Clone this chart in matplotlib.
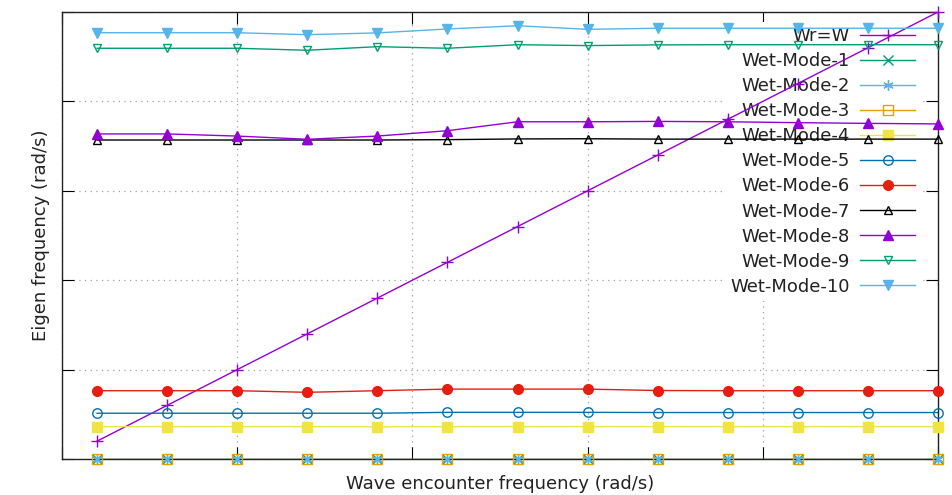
import matplotlib.pyplot as plt
from matplotlib.lines import Line2D
from matplotlib.ticker import NullFormatter

# wave encounter frequency (rad/s)
freq = [0.1, 0.3, 0.5, 0.7, 0.9, 1.1, 1.3, 1.5, 1.7, 1.9, 2.1, 2.3, 2.5]

# eigen frequencies (rad/s)
wr_w = [0.1, 0.3, 0.5, 0.7, 0.9, 1.1, 1.3, 1.5, 1.7, 1.9, 2.1, 2.3, 2.5]
mode1 = [0.0, 0.0, 0.0, 0.0, 0.0, 0.0, 0.0, 0.0, 0.0, 0.0, 0.0, 0.0, 0.0]
mode2 = [0.0, 0.0, 0.0, 0.0, 0.0, 0.0, 0.0, 0.0, 0.0, 0.0, 0.0, 0.0, 0.0]
mode3 = [0.0, 0.0, 0.0, 0.0, 0.0, 0.0, 0.0, 0.0, 0.0, 0.0, 0.0, 0.0, 0.0]
mode4 = [0.181, 0.181, 0.181, 0.181, 0.180, 0.181, 0.181, 0.181, 0.181, 0.181, 0.181, 0.181, 0.181]
mode5 = [0.256, 0.256, 0.256, 0.256, 0.256, 0.261, 0.261, 0.261, 0.260, 0.260, 0.260, 0.260, 0.260]
mode6 = [0.382, 0.382, 0.382, 0.373, 0.382, 0.391, 0.391, 0.391, 0.383, 0.382, 0.382, 0.382, 0.382]
mode7 = [1.784, 1.784, 1.784, 1.784, 1.784, 1.786, 1.790, 1.791, 1.789, 1.789, 1.789, 1.789, 1.789]
mode8 = [1.818, 1.818, 1.806, 1.788, 1.806, 1.836, 1.886, 1.886, 1.888, 1.886, 1.881, 1.877, 1.874]
mode9 = [2.297, 2.297, 2.297, 2.286, 2.306, 2.297, 2.317, 2.312, 2.316, 2.317, 2.317, 2.317, 2.317]
mode10 = [2.384, 2.384, 2.384, 2.373, 2.383, 2.405, 2.423, 2.403, 2.409, 2.409, 2.409, 2.409, 2.409]

series = [
    ('Wr=W', wr_w, '#9400D3', '+', 'none', 8),
    ('Wet-Mode-1', mode1, '#009E73', 'x', 'none', 6.5),
    ('Wet-Mode-2', mode2, '#56B4E9', (6, 2, 0), 'none', 7.5),
    ('Wet-Mode-3', mode3, '#E69F00', 's', 'none', 6.5),
    ('Wet-Mode-4', mode4, '#F0E442', 's', '#F0E442', 6.5),
    ('Wet-Mode-5', mode5, '#0072B2', 'o', 'none', 6.8),
    ('Wet-Mode-6', mode6, '#E51E10', 'o', '#E51E10', 7),
    ('Wet-Mode-7', mode7, 'black', '^', 'none', 6),
    ('Wet-Mode-8', mode8, '#9400D3', '^', '#9400D3', 7),
    ('Wet-Mode-9', mode9, '#009E73', 'v', 'none', 6),
    ('Wet-Mode-10', mode10, '#56B4E9', 'v', '#56B4E9', 7),
]

plt.rcParams['font.family'] = ['DejaVu Sans']

fig = plt.figure(figsize=(9.53, 4.95), dpi=100)
ax = fig.add_axes([0.0651, 0.0727, 0.9192, 0.9031])

handles = []
for i, (name, vals, color, marker, face, size) in enumerate(series):
    # lines sit under the border, markers on top of it (like gnuplot)
    ax.plot(freq, vals, color=color, linewidth=1.0, zorder=2 + i * 0.01)
    ax.plot(freq, vals, linestyle='none', marker=marker, markerfacecolor=face,
            markeredgecolor=color, markersize=size, markeredgewidth=1.0,
            clip_on=False, zorder=3 + i * 0.01)
    handles.append(Line2D([], [], color=color, linewidth=1.0, marker=marker,
                          markerfacecolor=face, markeredgecolor=color,
                          markersize=size, markeredgewidth=1.0, label=name))

ax.set_xlim(0, 2.5)
ax.set_ylim(0, 2.5)
ax.set_xticks([0, 0.5, 1.0, 1.5, 2.0, 2.5])
ax.set_yticks([0, 0.5, 1.0, 1.5, 2.0, 2.5])
ax.xaxis.set_major_formatter(NullFormatter())
ax.yaxis.set_major_formatter(NullFormatter())
ax.tick_params(direction='in', length=8.5, width=0.8, top=True, right=True)
for sp in ax.spines.values():
    sp.set_linewidth(1.0)
    sp.set_color('#222222')

ax.set_axisbelow(True)
ax.grid(True, color='#a0a0a0', linestyle=(0, (1, 3.5)), linewidth=0.9)

ax.set_xlabel('Wave encounter frequency (rad/s)', fontsize=13, color='#222222', labelpad=8)
ax.set_ylabel('Eigen frequency (rad/s)', fontsize=13, color='#222222', labelpad=5)

leg = ax.legend(handles=handles, loc='upper right', bbox_to_anchor=(0.9795, 0.978), fontsize=13,
                markerfirst=False, frameon=True, fancybox=False, framealpha=1.0,
                facecolor='white', edgecolor='none', borderaxespad=0, borderpad=0.3,
                handlelength=3.0, handletextpad=0.6, labelspacing=0.39)
leg.set_zorder(1)
for t in leg.get_texts():
    t.set_color('#222222')

plt.savefig('out.png', dpi=100)
